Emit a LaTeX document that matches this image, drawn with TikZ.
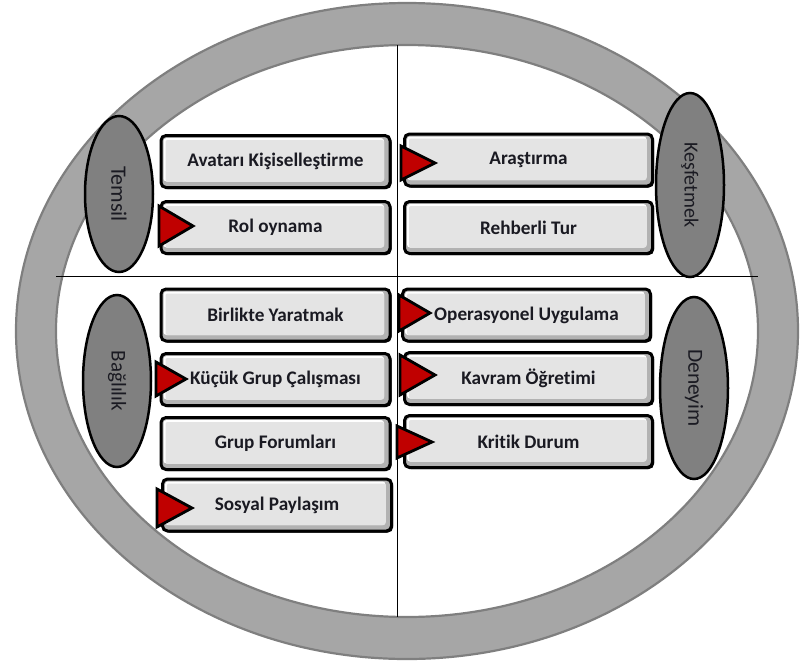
\documentclass[tikz,border=0pt]{standalone}
\usepackage{fontspec}
\setmainfont[Ligatures=NoCommon]{Carlito}
\usetikzlibrary{shapes.geometric,shadows}
\definecolor{ringfill}{HTML}{A6A6A6}
\definecolor{ringedge}{HTML}{7F7F7F}
\definecolor{ovalfill}{HTML}{808080}
\definecolor{facegray}{HTML}{E4E4E4}
\definecolor{bevelgray}{HTML}{B2B2B2}
\definecolor{arrowred}{HTML}{C00000}
\definecolor{labelink}{HTML}{1A1A22}
\begin{document}
\begin{tikzpicture}[x=1pt,y=-1pt,
  oval/.style={ellipse, draw=black, line width=2.5pt, fill=ovalfill, inner sep=0pt,
    rotate=-90, minimum height=68pt, text=labelink},
  item/.style={rectangle, rounded corners=5pt, draw=black, line width=3pt,
    fill=bevelgray, inner sep=0pt, minimum height=52pt, text=labelink,
    font=\fontsize{19.2}{23}\selectfont\bfseries,
    drop shadow={shadow xshift=1.5pt, shadow yshift=-1.5pt, fill=black, opacity=1},
    path picture={
      \fill[white, rounded corners=3pt]
        ([shift={(2.5pt,-2.5pt)}]path picture bounding box.north west) rectangle
        ([shift={(-6pt,6pt)}]path picture bounding box.south east);
      \fill[facegray, rounded corners=2pt]
        ([shift={(4.5pt,-4.5pt)}]path picture bounding box.north west) rectangle
        ([shift={(-6pt,6pt)}]path picture bounding box.south east);
    }},
  leftitem/.style={item, minimum width=229pt},
  rightitem/.style={item, minimum width=248pt},
  marker/.style={fill=arrowred, draw=black, line width=2.8pt, line join=miter},
  divider/.style={draw=black, line width=0.9pt}
]
\useasboundingbox (0,0) rectangle (801,670);

% outer ring
\fill[ringfill, even odd rule]
  (407,331) ellipse [x radius=391pt, y radius=328pt]
  (407,331) ellipse [x radius=351pt, y radius=286pt];
\draw[ringedge, line width=2.2pt]
  (407,331) ellipse [x radius=391pt, y radius=328pt];
\draw[ringedge, line width=2.2pt]
  (407,331) ellipse [x radius=351pt, y radius=286pt];

% quadrant dividers
\coordinate (top) at (397,45);
\coordinate (bottom) at (397,617);
\coordinate (left) at (56,276);
\coordinate (right) at (758,276);
\draw[divider] (top) -- (bottom);
\draw[divider] (left) -- (right);

% category ovals
\node[oval, minimum width=156pt, font=\fontsize{22}{26}\selectfont] (temsil) at (119,194) {Temsil};
\node[oval, minimum width=184pt, font=\fontsize{20}{24}\selectfont] (kesfet) at (690,185) {Keşfetmek};
\node[oval, minimum width=172pt, font=\fontsize{21}{25}\selectfont] (bag) at (117,381) {Bağlılık};
\node[oval, minimum width=182pt, font=\fontsize{21.5}{25}\selectfont] (deney) at (694,388) {Deneyim};

% activity boxes, left column
\node[leftitem] (avatar) at (275.5,161.5) {Avatarı Kişiselleştirme};
\node[leftitem] (rol) at (275.5,227.5) {Rol oynama};
\node[leftitem] (birlikte) at (275.5,315) {Birlikte Yaratmak};
\node[leftitem] (kucuk) at (275.5,379.5) {Küçük Grup Çalışması};
\node[leftitem] (forum) at (275.5,443.5) {Grup Forumları};
\node[leftitem] (sosyal) at (277,505) {Sosyal Paylaşım};

% activity boxes, right column
\node[rightitem] (arastirma) at (528.5,160) {Araştırma};
\node[rightitem] (rehber) at (528.5,227.5) {Rehberli Tur};
\node[rightitem] (operasyon) at (526.5,315) {Operasyonel Uygulama};
\node[rightitem] (kavram) at (528.5,378.5) {Kavram Öğretimi};
\node[rightitem] (kritik) at (528.5,441.5) {Kritik Durum};

% red markers on the left edge of selected boxes
\coordinate (mrol) at (159,226);
\coordinate (mkucuk) at (156,379);
\coordinate (msosyal) at (157,508);
\coordinate (marastirma) at (401,163);
\coordinate (moperasyon) at (399,313);
\coordinate (mkavram) at (400,375);
\coordinate (mkritik) at (397,442);
\foreach \m/\len/\half in {mrol/34/20, mkucuk/30/17, msosyal/35/19,
                          marastirma/34/17, moperasyon/31/18, mkavram/35/20, mkritik/35/16}
  \draw[marker] (\m) ++(0,-\half) -- ++(\len,\half) -- ++(-\len,\half) -- cycle;
\end{tikzpicture}
\end{document}
